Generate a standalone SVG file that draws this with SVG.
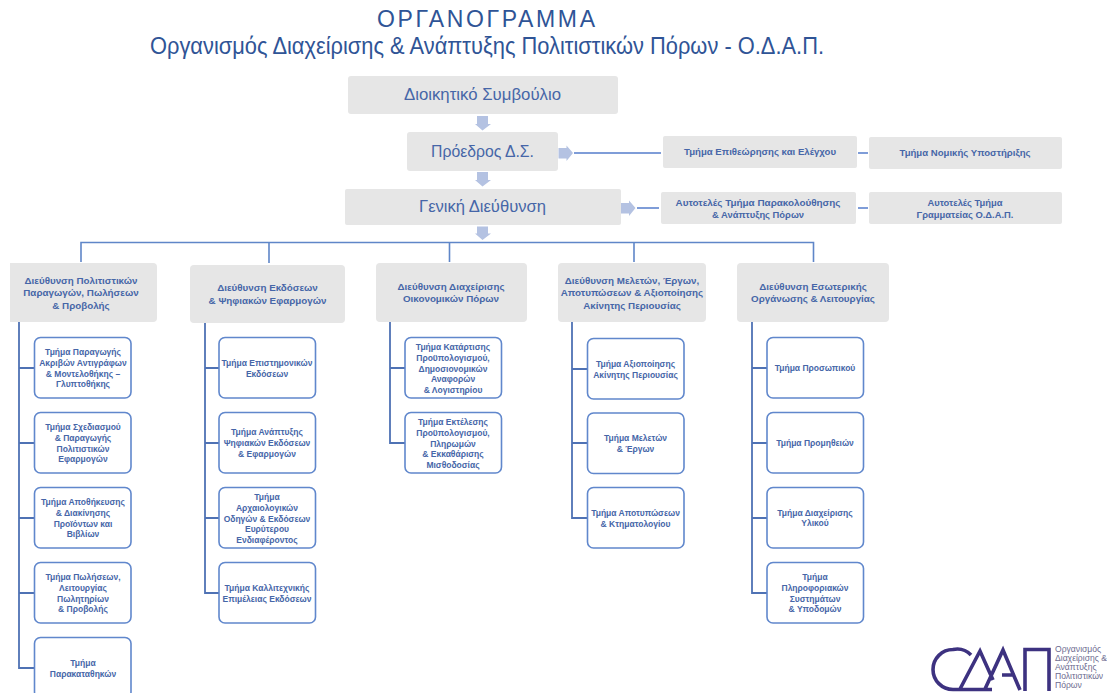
<svg xmlns="http://www.w3.org/2000/svg" width="1107" height="693" viewBox="0 0 1107 693">
<style>
text{font-family:"Liberation Sans",Arial,sans-serif;text-anchor:middle;fill:#4666a8}
.top{fill:#e6e6e6}
.big{font-size:17px}
.dir{font-size:9.8px;font-weight:bold}
.unit{font-size:8.5px;font-weight:bold}
.side{font-size:9.4px;font-weight:bold}
.child{fill:#fff;stroke:#6087cc;stroke-width:1.6}
.arrow{fill:#b4c2e2}
.link{fill:none;stroke:#7f9dd8;stroke-width:2}
.bar{fill:none;stroke:#5f86c8;stroke-width:1.6}
.spine{fill:none;stroke:#4f72b4;stroke-width:1.8}
.logo{fill:none;stroke:#3d3280;stroke-width:3.6}
.logotext{font-size:8.6px;text-anchor:start;fill:#6d6b8f}
.head{fill:#2f5496}
</style>
<rect width="1107" height="693" fill="#fff"/>
<g id="title">
<text class="head" x="486" y="27" font-size="23" textLength="218">ΟΡΓΑΝΟΓΡΑΜΜΑ</text>
<text class="head" x="487" y="54" font-size="24" textLength="674" lengthAdjust="spacingAndGlyphs">Οργανισμός Διαχείρισης &amp; Ανάπτυξης Πολιτιστικών Πόρων - Ο.Δ.Α.Π.</text>
</g>
<g id="connectors">
<path class="arrow" d="M477 116h11v8h3l-8.500 6.500L475 124h2z"/>
<path class="arrow" d="M477 172h11v8h3l-8.500 6.500L475 180h2z"/>
<path class="arrow" d="M477 226.500h11v7h3l-8.500 6.500L475 233.500h2z"/>
<path class="arrow" d="M558.500 148h8v-2.500l6.500 7.500-6.500 8v-2.500h-8z"/>
<path class="arrow" d="M621 203h8v-2.500l6.500 7.500-6.500 8v-2.500h-8z"/>
<path class="link" d="M574 153H661M858 153H868M637 208H659M858 208H868"/>
<path class="bar" d="M81 262V242.500H813.500V262M269 242.500V263M449.500 242.500V262M634 242.500V262"/>
<path class="spine" d="M19 322V668H35M19 368H35M19 443H35M19 518H35M19 593H35"/>
<path class="spine" d="M205 323V593H220M205 368H220M205 443H220M205 518H220"/>
<path class="spine" d="M390 322V443H406M390 368H406"/>
<path class="spine" d="M572 322V518H588M572 369H588M572 443H588"/>
<path class="spine" d="M752 322V593H768M752 368H768M752 443H768M752 518H768"/>
</g>
<g id="board"><rect class="top" x="348" y="76" width="270" height="38" rx="3"/><text class="big" x="482.500" y="100" textLength="157" lengthAdjust="spacingAndGlyphs">Διοικητικό Συμβούλιο</text></g>
<g id="president"><rect class="top" x="407" y="132" width="151" height="39" rx="3"/><text class="big" x="482.500" y="157" textLength="103" lengthAdjust="spacingAndGlyphs">Πρόεδρος Δ.Σ.</text></g>
<g id="general"><rect class="top" x="345" y="189" width="276" height="36" rx="2"/><text class="big" x="482.500" y="212" textLength="127" lengthAdjust="spacingAndGlyphs">Γενική Διεύθυνση</text></g>
<g id="inspection"><rect class="top" x="663" y="136" width="194" height="32" rx="2"/><text class="side" x="760" y="155" textLength="152" lengthAdjust="spacingAndGlyphs">Τμήμα Επιθεώρησης και Ελέγχου</text></g>
<g id="legal"><rect class="top" x="869" y="137" width="193" height="32" rx="2"/><text class="side" x="965" y="156" textLength="131" lengthAdjust="spacingAndGlyphs">Τμήμα Νομικής Υποστήριξης</text></g>
<g id="monitoring"><rect class="top" x="661" y="192" width="195" height="32" rx="2"/><text class="side" x="758" y="206" textLength="165" lengthAdjust="spacingAndGlyphs">Αυτοτελές Τμήμα Παρακολούθησης</text><text class="side" x="758" y="217.500">&amp; Ανάπτυξης Πόρων</text></g>
<g id="secretariat"><rect class="top" x="869" y="192" width="193" height="32" rx="2"/><text class="side" x="965" y="206">Αυτοτελές Τμήμα</text><text class="side" x="965" y="217.500">Γραμματείας Ο.Δ.Α.Π.</text></g>

<g id="dir1"><path class="top" d="M10 263H153a4 4 0 0 1 4 4V318a4 4 0 0 1-4 4H10z"/><text class="dir" x="81" y="283.500">Διεύθυνση Πολιτιστικών</text><text class="dir" x="81" y="296">Παραγωγών, Πωλήσεων</text><text class="dir" x="81" y="308.500">&amp; Προβολής</text></g>
<g id="dir2"><rect class="top" x="190" y="265" width="155" height="58" rx="4"/><text class="dir" x="267.500" y="291">Διεύθυνση Εκδόσεων</text><text class="dir" x="267.500" y="303.500">&amp; Ψηφιακών Εφαρμογών</text></g>
<g id="dir3"><rect class="top" x="376" y="263" width="151" height="59" rx="4"/><text class="dir" x="451" y="290">Διεύθυνση Διαχείρισης</text><text class="dir" x="451" y="302">Οικονομικών Πόρων</text></g>
<g id="dir4"><rect class="top" x="558" y="263" width="148" height="59" rx="4"/><text class="dir" x="632" y="283.500">Διεύθυνση Μελετών, Έργων,</text><text class="dir" x="632" y="296">Αποτυπώσεων &amp; Αξιοποίησης</text><text class="dir" x="632" y="308.500">Ακίνητης Περιουσίας</text></g>
<g id="dir5"><rect class="top" x="737" y="263" width="152" height="59" rx="4"/><text class="dir" x="813" y="290">Διεύθυνση Εσωτερικής</text><text class="dir" x="813" y="302">Οργάνωσης &amp; Λειτουργίας</text></g>

<g id="u1a"><rect class="child" x="34.500" y="337.500" width="96.500" height="60.500" rx="6"/><text class="unit" x="83" y="355">Τμήμα Παραγωγής</text><text class="unit" x="83" y="366">Ακριβών Αντιγράφων</text><text class="unit" x="83" y="376.500">&amp; Μοντελοθήκης –</text><text class="unit" x="83" y="387">Γλυπτοθήκης</text></g>
<g id="u1b"><rect class="child" x="34.500" y="412.500" width="96.500" height="60.500" rx="6"/><text class="unit" x="83" y="430">Τμήμα Σχεδιασμού</text><text class="unit" x="83" y="441">&amp; Παραγωγής</text><text class="unit" x="83" y="451.500">Πολιτιστικών</text><text class="unit" x="83" y="462">Εφαρμογών</text></g>
<g id="u1c"><rect class="child" x="34.500" y="487.500" width="96.500" height="60.500" rx="6"/><text class="unit" x="83" y="505">Τμήμα Αποθήκευσης</text><text class="unit" x="83" y="516">&amp; Διακίνησης</text><text class="unit" x="83" y="526.500">Προϊόντων και</text><text class="unit" x="83" y="537">Βιβλίων</text></g>
<g id="u1d"><rect class="child" x="34.500" y="562.500" width="96.500" height="60.500" rx="6"/><text class="unit" x="83" y="580">Τμήμα Πωλήσεων,</text><text class="unit" x="83" y="591">Λειτουργίας</text><text class="unit" x="83" y="601.500">Πωλητηρίων</text><text class="unit" x="83" y="612">&amp; Προβολής</text></g>
<g id="u1e"><rect class="child" x="34.500" y="637.500" width="96.500" height="60.500" rx="6"/><text class="unit" x="83" y="666">Τμήμα</text><text class="unit" x="83" y="676.500">Παρακαταθηκών</text></g>

<g id="u2a"><rect class="child" x="219" y="337.500" width="96.500" height="60.500" rx="6"/><text class="unit" x="267" y="365.500">Τμήμα Επιστημονικών</text><text class="unit" x="267" y="376.500">Εκδόσεων</text></g>
<g id="u2b"><rect class="child" x="219" y="412.500" width="96.500" height="60.500" rx="6"/><text class="unit" x="267" y="435">Τμήμα Ανάπτυξης</text><text class="unit" x="267" y="446">Ψηφιακών Εκδόσεων</text><text class="unit" x="267" y="456.500">&amp; Εφαρμογών</text></g>
<g id="u2c"><rect class="child" x="219" y="487.500" width="96.500" height="60.500" rx="6"/><text class="unit" x="267" y="500">Τμήμα</text><text class="unit" x="267" y="511">Αρχαιολογικών</text><text class="unit" x="267" y="521.500">Οδηγών &amp; Εκδόσεων</text><text class="unit" x="267" y="532">Ευρύτερου</text><text class="unit" x="267" y="542.500">Ενδιαφέροντος</text></g>
<g id="u2d"><rect class="child" x="219" y="562.500" width="96.500" height="60.500" rx="6"/><text class="unit" x="267" y="591">Τμήμα Καλλιτεχνικής</text><text class="unit" x="267" y="601.500">Επιμέλειας Εκδόσεων</text></g>

<g id="u3a"><rect class="child" x="405" y="337.500" width="96.500" height="60.500" rx="6"/><text class="unit" x="453" y="350">Τμήμα Κατάρτισης</text><text class="unit" x="453" y="360.500">Προϋπολογισμού,</text><text class="unit" x="453" y="371.500">Δημοσιονομικών</text><text class="unit" x="453" y="382">Αναφορών</text><text class="unit" x="453" y="392.500">&amp; Λογιστηρίου</text></g>
<g id="u3b"><rect class="child" x="405" y="412.500" width="96.500" height="60.500" rx="6"/><text class="unit" x="453" y="425">Τμήμα Εκτέλεσης</text><text class="unit" x="453" y="435.500">Προϋπολογισμού,</text><text class="unit" x="453" y="446.500">Πληρωμών</text><text class="unit" x="453" y="457">&amp; Εκκαθάρισης</text><text class="unit" x="453" y="467.500">Μισθοδοσίας</text></g>

<g id="u4a"><rect class="child" x="587.500" y="338.500" width="96.500" height="60.500" rx="6"/><text class="unit" x="635.500" y="367">Τμήμα Αξιοποίησης</text><text class="unit" x="635.500" y="378">Ακίνητης Περιουσίας</text></g>
<g id="u4b"><rect class="child" x="587.500" y="413" width="96.500" height="60.500" rx="6"/><text class="unit" x="635.500" y="441">Τμήμα Μελετών</text><text class="unit" x="635.500" y="451.500">&amp; Έργων</text></g>
<g id="u4c"><rect class="child" x="587.500" y="487.500" width="96.500" height="60.500" rx="6"/><text class="unit" x="635.500" y="516">Τμήμα Αποτυπώσεων</text><text class="unit" x="635.500" y="526.500">&amp; Κτηματολογίου</text></g>

<g id="u5a"><rect class="child" x="767" y="337.500" width="96.500" height="60.500" rx="6"/><text class="unit" x="815" y="371">Τμήμα Προσωπικού</text></g>
<g id="u5b"><rect class="child" x="767" y="412.500" width="96.500" height="60.500" rx="6"/><text class="unit" x="815" y="446">Τμήμα Προμηθειών</text></g>
<g id="u5c"><rect class="child" x="767" y="487.500" width="96.500" height="60.500" rx="6"/><text class="unit" x="815" y="516">Τμήμα Διαχείρισης</text><text class="unit" x="815" y="526">Υλικού</text></g>
<g id="u5d"><rect class="child" x="767" y="562.500" width="96.500" height="60.500" rx="6"/><text class="unit" x="815" y="580">Τμήμα</text><text class="unit" x="815" y="591">Πληροφοριακών</text><text class="unit" x="815" y="601.500">Συστημάτων</text><text class="unit" x="815" y="612">&amp; Υποδομών</text></g>

<g id="logo">
<path class="logo" d="M971 655A19.500 19.500 0 0 0 953 649.500A20 20 0 0 0 953 689.500H992M960 689L980 651L993 680M985 689L1003 650L1020 690M1002 675H1015M1025 691V649.500H1049V691"/>
<text class="logotext" x="1055" y="652">Οργανισμός</text>
<text class="logotext" x="1055" y="661">Διαχείρισης &amp;</text>
<text class="logotext" x="1055" y="670">Ανάπτυξης</text>
<text class="logotext" x="1055" y="679">Πολιτιστικών</text>
<text class="logotext" x="1055" y="688">Πόρων</text>
</g>
</svg>
